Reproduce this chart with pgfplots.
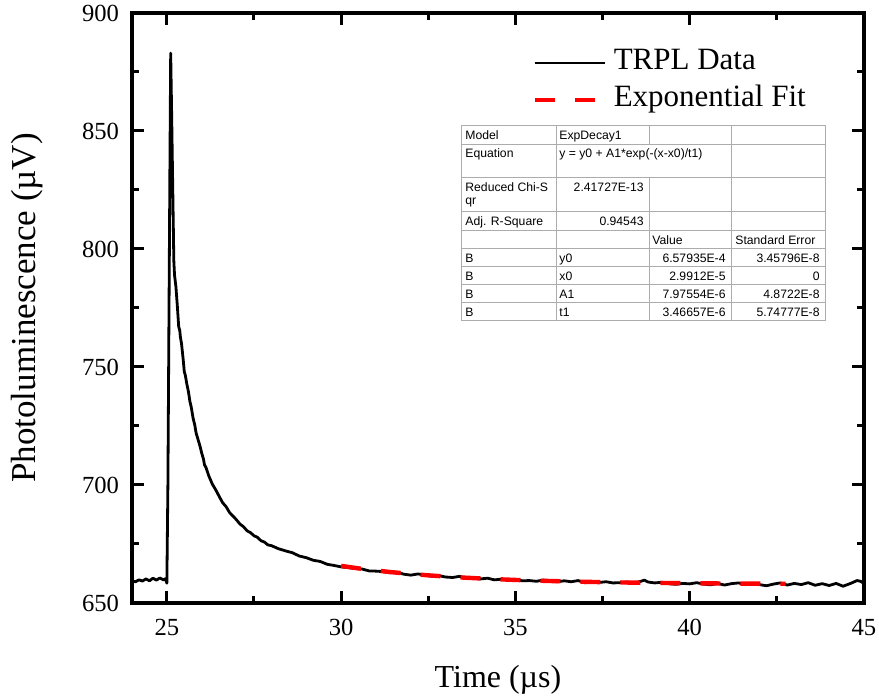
\documentclass[border=0pt]{standalone}
\usepackage{fontspec}
\setmainfont{Liberation Serif}
\newfontfamily\tabfont{Liberation Sans}
\usepackage{pgfplots}
\pgfplotsset{compat=1.18}

\begin{document}
\begin{tikzpicture}
\begin{axis}[
  width=366pt, height=295pt, scale only axis,
  xmin=24, xmax=45, ymin=650, ymax=900,
  xtick={25,30,35,40,45}, ytick={650,700,750,800,850,900},
  minor x tick num=1, minor y tick num=1,
  tick align=inside,
  major tick length=6pt, minor tick length=3.5pt,
  every tick/.style={black, line width=1.5pt},
  axis line style={line width=1.6pt},
  /pgf/number format/assume math mode=true,
  ticklabel style={font=\fontsize{12.3}{14}\selectfont},
  xticklabel style={yshift=-4.5pt},
  yticklabel style={xshift=-3pt},
  xlabel={Time (µs)}, ylabel={Photoluminescence (µV)},
  xlabel style={at={(axis description cs:0.5,-0.1305)}, anchor=center,
    font=\fontsize{16}{19}\selectfont},
  ylabel style={at={(axis description cs:-0.1434,0.5)}, anchor=center,
    font=\fontsize{17.5}{20}\selectfont},
  legend image code/.code={\draw[#1] (0pt,0pt) -- (35pt,0pt);},
  legend cell align=left,
  legend style={at={(axis description cs:0.5464,0.884)}, anchor=west,
    draw=none, fill=none, inner sep=0pt, column sep=3pt, row sep=2.5pt,
    font=\fontsize{15.5}{18}\selectfont,
    nodes={inner sep=0.5pt, text height=11pt, text depth=4pt}},
]
\addplot[black, line width=1.4pt, line join=round] coordinates {
(24.0,659.4)(24.1,659.0)(24.2,659.8)(24.3,659.3)(24.4,660.2)(24.5,659.4)
(24.6,660.5)(24.7,659.7)(24.8,660.6)(24.9,659.8)(24.96,660.3)(25.0,658.4)
(25.03,700)(25.06,770)(25.09,840)(25.11,883)(25.14,855)(25.17,825)
(25.20,795)(25.22,789)(25.26,784)(25.30,776)(25.34,767)(25.37,765.5)
(25.39,762.5)(25.42,760)(25.47,753)(25.50,748)(25.53,746.5)(25.57,743)
(25.62,739.5)(25.66,735.5)(25.70,733)(25.75,728.5)(25.80,725.5)(25.84,722)
(25.90,719)(25.95,716.5)(26.0,713.5)(26.05,711)(26.08,708.5)(26.12,707.5)
(26.2,704)(26.3,700.5)(26.4,698)(26.5,695.2)(26.6,692.5)(26.7,690.8)
(26.8,688.3)(26.9,686.8)(27.0,685.2)(27.1,683.4)(27.2,682.3)(27.3,680.6)
(27.4,679.8)(27.5,678.5)(27.6,677.8)(27.7,676.4)(27.8,675.8)(27.9,674.6)
(28.0,674.3)(28.2,673.0)(28.4,672.1)(28.6,671.3)(28.8,669.9)(29.0,669.2)
(29.2,668.1)(29.4,667.6)(29.6,666.4)(29.8,665.9)(30.0,665.3)(30.2,665.0)
(30.4,664.6)(30.6,664.4)(30.8,663.6)(31.0,663.5)(31.2,663.3)(31.4,662.8)
(31.6,663.0)(31.8,662.2)(32.0,661.8)(32.2,662.3)(32.4,661.9)(32.6,661.3)
(32.8,661.6)(33.0,661.0)(33.2,660.8)(33.4,661.3)(33.6,660.5)(33.8,660.6)
(34.0,660.2)(34.2,660.5)(34.4,659.8)(34.6,660.1)(34.8,659.6)(35.0,659.9)
(35.2,659.4)(35.4,659.5)(35.6,659.2)(35.8,659.7)(36.0,659.3)(36.2,659.0)
(36.4,659.4)(36.6,659.0)(36.8,659.5)(37.0,658.6)(37.2,659.1)(37.4,658.7)
(37.6,659.0)(37.8,658.5)(38.0,658.6)(38.2,658.9)(38.4,658.4)(38.6,659.2)
(38.7,659.7)(38.8,658.9)(39.0,658.5)(39.2,658.8)(39.4,658.2)(39.6,657.9)
(39.8,658.3)(40.0,658.1)(40.2,658.6)(40.4,658.0)(40.6,657.7)(40.8,658.3)
(41.0,657.6)(41.2,658.2)(41.4,658.5)(41.6,657.9)(41.8,658.4)(42.0,657.8)
(42.2,657.3)(42.4,658.0)(42.6,658.5)(42.8,657.6)(43.0,658.3)(43.2,657.8)
(43.4,658.6)(43.6,657.5)(43.8,658.2)(44.0,657.4)(44.2,658.3)(44.4,657.1)
(44.6,658.2)(44.8,659.5)(44.9,659.2)(45.0,658.3)
};
\addlegendentry{TRPL Data}
\addplot[red, line width=2.2pt, dash pattern=on 10pt off 10pt] coordinates {
(30.0,665.71)(30.5,664.67)(31.0,663.76)(31.5,662.98)(32.0,662.30)
(32.5,661.72)(33.0,661.21)(33.5,660.77)(34.0,660.39)(34.5,660.06)
(35.0,659.77)(35.5,659.53)(36.0,659.31)(36.5,659.13)(37.0,658.97)
(37.5,658.83)(38.0,658.71)(38.5,658.60)(39.0,658.51)(39.5,658.44)
(40.0,658.37)(40.5,658.31)(41.0,658.26)(41.5,658.22)(42.0,658.18)
(42.5,658.15)(42.75,658.13)
};
\addlegendentry{Exponential Fit}
\end{axis}
\begin{scope}[shift={(current axis.south west)}, xshift=-66pt, yshift=301.5pt, x=0.5pt, y=-0.5pt]
  \draw[gray!65, line width=0.5pt] (461,126) rectangle (825,321);
  \foreach \yy in {145,178,212,231,249,267,285,303}
    \draw[gray!65, line width=0.5pt] (461,\yy) -- (825,\yy);
  \draw[gray!65, line width=0.5pt] (556,126) -- (556,321);
  \draw[gray!65, line width=0.5pt] (649,126) -- (649,145) (649,178) -- (649,321);
  \draw[gray!65, line width=0.5pt] (731,126) -- (731,321);
  \begin{scope}[every node/.style={inner sep=0pt, font=\tabfont\fontsize{6.1}{7}\selectfont}]
    \node[anchor=base west] at (465,140) {Model};
    \node[anchor=base west] at (559,140) {ExpDecay1};
    \node[anchor=base west] at (465,158) {Equation};
    \node[anchor=base west] at (559,158) {y = y0 + A1*exp(-(x-x0)/t1)};
    \node[anchor=base west] at (465,192) {Reduced Chi-S};
    \node[anchor=base west] at (465,205) {qr};
    \node[anchor=base east] at (644,192) {2.41727E-13};
    \node[anchor=base west] at (465,226) {Adj. R-Square};
    \node[anchor=base east] at (644,226) {0.94543};
    \node[anchor=base west] at (652,244.5) {Value};
    \node[anchor=base west] at (735,244.5) {Standard Error};
    \node[anchor=base west] at (465,262.5) {B};
    \node[anchor=base west] at (559,262.5) {y0};
    \node[anchor=base east] at (726,262.5) {6.57935E-4};
    \node[anchor=base east] at (820,262.5) {3.45796E-8};
    \node[anchor=base west] at (465,280.5) {B};
    \node[anchor=base west] at (559,280.5) {x0};
    \node[anchor=base east] at (726,280.5) {2.9912E-5};
    \node[anchor=base east] at (820,280.5) {0};
    \node[anchor=base west] at (465,298.5) {B};
    \node[anchor=base west] at (559,298.5) {A1};
    \node[anchor=base east] at (726,298.5) {7.97554E-6};
    \node[anchor=base east] at (820,298.5) {4.8722E-8};
    \node[anchor=base west] at (465,316.5) {B};
    \node[anchor=base west] at (559,316.5) {t1};
    \node[anchor=base east] at (726,316.5) {3.46657E-6};
    \node[anchor=base east] at (820,316.5) {5.74777E-8};
  \end{scope}
  \pgfresetboundingbox
  \path[use as bounding box] (0,0) rectangle (879,699);
\end{scope}
\end{tikzpicture}
\end{document}
